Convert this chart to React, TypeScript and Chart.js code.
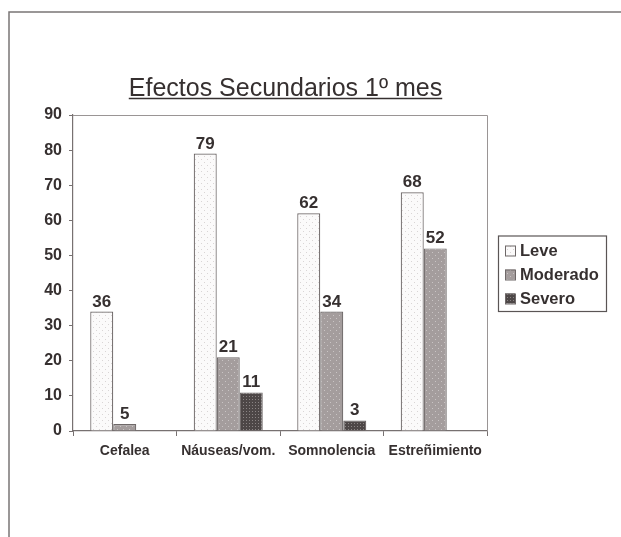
import React, { useEffect, useRef } from "react";
import { Chart, registerables } from "chart.js";

Chart.register(...registerables);

const categories = ["Cefalea", "Náuseas/vom.", "Somnolencia", "Estreñimiento"];
const seriesNames = ["Leve", "Moderado", "Severo"];
const leveValues = [34, 79, 62, 68];
const moderadoValues = [2, 21, 34, 52];
const severoValues: (number | null)[] = [null, 11, 3, null];
const leveLabels = ["36", "79", "62", "68"];
const moderadoLabels = ["5", "21", "34", "52"];
const severoLabels: (string | null)[] = [null, "11", "3", null];
const yMin = 0;
const yMax = 90;
const yStep = 10;
const titleText = "Efectos Secundarios 1º mes";

const FONT = "'Liberation Sans', Arial, sans-serif";
const TEXT = "#363030";
const EDGE = "#6e6868";

function makePattern(bg: string, dot: string, size: number): CanvasPattern | string {
  const c = document.createElement("canvas");
  c.width = size;
  c.height = size;
  const g = c.getContext("2d");
  if (!g) return bg;
  g.fillStyle = bg;
  g.fillRect(0, 0, size, size);
  g.fillStyle = dot;
  g.fillRect(0, 0, 1, 1);
  if (size >= 4) g.fillRect(Math.floor(size / 2), Math.floor(size / 2), 1, 1);
  const p = g.createPattern(c, "repeat");
  return p || bg;
}

export default function App() {
  const ref = useRef<HTMLCanvasElement | null>(null);

  useEffect(() => {
    const canvas = ref.current;
    if (!canvas) return;
    const leveFill = makePattern("#fbfafa", "#d9d5d5", 6);
    const modFill = makePattern("#a49d9d", "#c9c4c4", 6);
    const sevFill = makePattern("#4d4747", "#8a8484", 3);
    const fills = [leveFill, modFill, sevFill];
    const labelSets = [leveLabels, moderadoLabels, severoLabels];

    const decor = {
      id: "decor",
      beforeDraw(chart: any) {
        const ctx = chart.ctx;
        ctx.save();
        ctx.fillStyle = "#ffffff";
        ctx.fillRect(0, 0, chart.width, chart.height);
        ctx.strokeStyle = "#7a7676";
        ctx.lineWidth = 1.5;
        ctx.beginPath();
        ctx.moveTo(chart.width, 12);
        ctx.lineTo(9, 12);
        ctx.lineTo(9, chart.height);
        ctx.stroke();
        ctx.font = `25px ${FONT}`;
        ctx.fillStyle = TEXT;
        ctx.textAlign = "center";
        ctx.textBaseline = "alphabetic";
        const cx = 285.5;
        ctx.fillText(titleText, cx, 96);
        const w = ctx.measureText(titleText).width;
        ctx.strokeStyle = TEXT;
        ctx.lineWidth = 1.5;
        ctx.beginPath();
        ctx.moveTo(cx - w / 2, 98.5);
        ctx.lineTo(cx + w / 2, 98.5);
        ctx.stroke();
        ctx.restore();
      },
      afterDraw(chart: any) {
        const ctx = chart.ctx;
        const a = chart.chartArea;
        ctx.save();
        ctx.strokeStyle = "#9a9595";
        ctx.lineWidth = 1;
        ctx.beginPath();
        ctx.moveTo(a.left, a.top + 0.5);
        ctx.lineTo(a.right + 0.5, a.top + 0.5);
        ctx.lineTo(a.right + 0.5, a.bottom);
        ctx.stroke();
        ctx.strokeStyle = "#5a5555";
        ctx.lineWidth = 1.2;
        ctx.strokeRect(498.5, 236, 108, 75.5);
        ctx.font = `bold 16.5px ${FONT}`;
        ctx.textAlign = "left";
        ctx.textBaseline = "alphabetic";
        const rows = [256, 280, 304];
        seriesNames.forEach((name, i) => {
          const y = rows[i];
          ctx.fillStyle = fills[i] as any;
          ctx.fillRect(505, y - 10.5, 10, 10);
          ctx.strokeStyle = EDGE;
          ctx.lineWidth = 1;
          ctx.strokeRect(505.5, y - 10, 10, 10);
          ctx.fillStyle = TEXT;
          ctx.fillText(name, 520, y);
        });
        ctx.restore();
      },
      afterDatasetsDraw(chart: any) {
        const ctx = chart.ctx;
        ctx.save();
        ctx.font = `bold 17px ${FONT}`;
        ctx.fillStyle = TEXT;
        ctx.textAlign = "center";
        ctx.textBaseline = "alphabetic";
        chart.data.datasets.forEach((_ds: any, di: number) => {
          const meta = chart.getDatasetMeta(di);
          meta.data.forEach((bar: any, i: number) => {
            const lab = labelSets[di][i];
            if (lab == null) return;
            ctx.fillText(lab, bar.x, bar.y - 5);
          });
        });
        ctx.restore();
      },
    };

    const datasetsValues = [leveValues, moderadoValues, severoValues];
    const chart = new Chart(canvas, {
      type: "bar",
      data: {
        labels: categories,
        datasets: seriesNames.map((name, i) => ({
          label: name,
          data: datasetsValues[i] as any,
          backgroundColor: fills[i] as any,
          borderColor: EDGE,
          borderWidth: 1.2,
          categoryPercentage: 0.667,
          barPercentage: 1,
        })),
      },
      options: {
        responsive: false,
        animation: false,
        devicePixelRatio: 1,
        layout: { padding: { left: 0, top: 115, right: 134, bottom: 0 } },
        plugins: {
          legend: { display: false },
          title: { display: false },
          tooltip: { enabled: false },
        },
        scales: {
          x: {
            grid: {
              drawOnChartArea: false,
              drawTicks: true,
              tickLength: 5,
              color: "#777171",
              offset: true,
            },
            border: { color: "#777171", width: 1.2 },
            ticks: {
              font: { family: FONT, size: 14, weight: "bold" },
              color: TEXT,
              padding: 7,
              maxRotation: 0,
              autoSkip: false,
            },
            afterFit: (s: any) => {
              s.height = 106;
            },
          },
          y: {
            min: yMin,
            max: yMax,
            grid: {
              drawOnChartArea: false,
              drawTicks: true,
              tickLength: 4,
              color: "#777171",
            },
            border: { color: "#777171", width: 1.2 },
            ticks: {
              stepSize: yStep,
              font: { family: FONT, size: 16, weight: "bold" },
              color: TEXT,
              padding: 7,
            },
            afterFit: (s: any) => {
              s.width = 73;
            },
          },
        },
      } as any,
      plugins: [decor as any],
    });
    return () => chart.destroy();
  }, []);

  return (
    <div style={{ position: "absolute", left: 0, top: 0, width: 621, height: 537, background: "#fff" }}>
      <canvas ref={ref} width={621} height={537} style={{ width: 621, height: 537, display: "block" }} />
    </div>
  );
}
